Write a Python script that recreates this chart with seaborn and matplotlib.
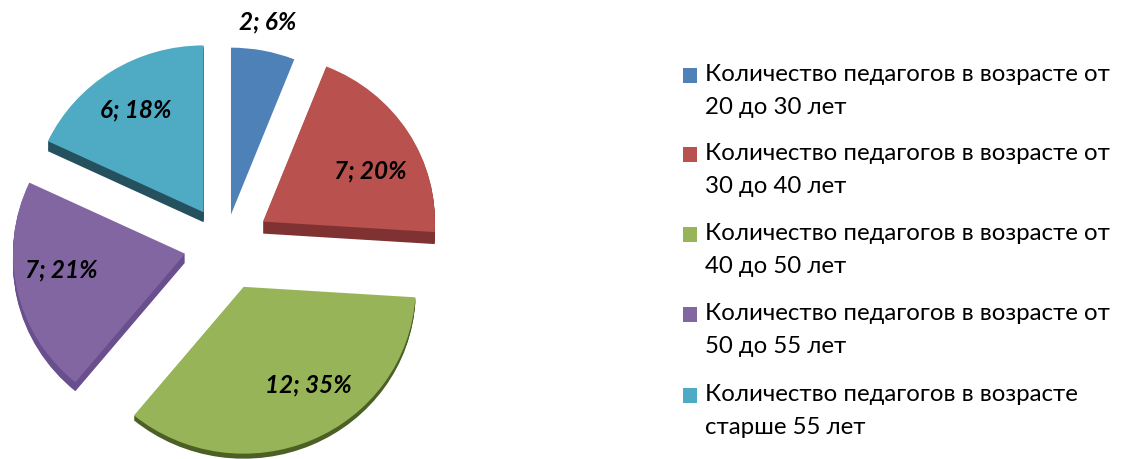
import matplotlib.pyplot as plt
import seaborn as sns

counts = [2, 7, 12, 7, 6]
shares = [6, 20, 35, 21, 18]
colors = ['#4f81b9', '#b9514e', '#97b558', '#8166a2', '#4fabc4']
shades = ['#3a5f8c', '#7f3231', '#4c5f25', '#6a4f8e', '#25505e']
depths = [0, 12, 5, 9, 10]
explode = [32, 45, 47, 41, 40]
legend_labels = [
    'Количество педагогов в возрасте от\n20 до 30 лет',
    'Количество педагогов в возрасте от\n30 до 40 лет',
    'Количество педагогов в возрасте от\n40 до 50 лет',
    'Количество педагогов в возрасте от\n50 до 55 лет',
    'Количество педагогов в возрасте\nстарше 55 лет',
]
label_pos = [(268, 22), (370, 171), (308, 385), (61, 270), (136, 110)]
legend_ys = [76, 155, 235, 315, 396]

sns.set_theme(style='white')
plt.rcParams['font.family'] = ['Lato', 'Open Sans', 'DejaVu Sans']

fig = plt.figure(figsize=(11.23, 4.59), dpi=100)

# pie axes: x is in pixels, y squashed a little for the tilted look
squash = 0.97
pie_ax = fig.add_axes([0, 0, 1, 1])
radius = 172
cy = 0
flat = {'linewidth': 0}

# side of the slices, one pie per pixel of depth
for dy in range(max(depths), 0, -1):
    wedges, _ = pie_ax.pie(shares, colors=shades, startangle=90, counterclock=False,
                           explode=explode, radius=radius, wedgeprops=flat,
                           center=(225, cy - dy / squash))
    for w, d in zip(wedges, depths):
        if dy > d:
            w.set_visible(False)

pie_ax.pie(shares, colors=colors, startangle=90, counterclock=False,
           explode=explode, radius=radius, wedgeprops=flat, center=(225, cy))
pie_ax.set_aspect('auto')
pie_ax.set_xlim(0, 1123)
pie_ax.set_ylim(cy - (459 - 245) / squash, cy + 245 / squash)
pie_ax.axis('off')

# labels and legend in pixel coordinates on top
ax = fig.add_axes([0, 0, 1, 1])
ax.set_xlim(0, 1123)
ax.set_ylim(459, 0)
ax.axis('off')

for c, s, (x, y) in zip(counts, shares, label_pos):
    ax.text(x, y, f'{c}; {s}%', ha='center', va='center', fontsize=17.5,
            fontweight='bold', style='italic', color='black')

for lab, col, y in zip(legend_labels, colors, legend_ys):
    ax.add_patch(plt.Rectangle((683, y - 8), 14, 15, color=col, lw=0))
    ax.text(705, y + 15, lab, fontsize=17.3, va='center', color='black', linespacing=1.7)

fig.savefig('out.png', dpi=100)
